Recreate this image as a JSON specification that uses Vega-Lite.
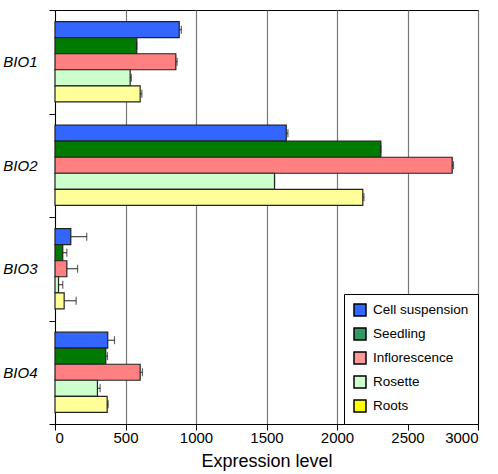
{
  "$schema": "https://vega.github.io/schema/vega-lite/v6.json",
  "width": 423,
  "height": 414,
  "padding": {"left": 2, "top": 3, "right": 2, "bottom": 4},
  "autosize": {"type": "pad"},
  "config": {
    "font": "Liberation Sans",
    "view": {"stroke": "black", "strokeWidth": 1},
    "axis": {"labelColor": "black", "titleColor": "black", "domainColor": "black", "tickColor": "black"}
  },
  "data": {
    "values": [
      {"gene": "BIO1", "tissue": "Cell suspension", "value": 881, "upper": 896},
      {"gene": "BIO1", "tissue": "Seedling", "value": 580, "upper": 580},
      {"gene": "BIO1", "tissue": "Inflorescence", "value": 857, "upper": 866},
      {"gene": "BIO1", "tissue": "Rosette", "value": 533, "upper": 541},
      {"gene": "BIO1", "tissue": "Roots", "value": 604, "upper": 616},
      {"gene": "BIO2", "tissue": "Cell suspension", "value": 1640, "upper": 1652},
      {"gene": "BIO2", "tissue": "Seedling", "value": 2311, "upper": 2311},
      {"gene": "BIO2", "tissue": "Inflorescence", "value": 2817, "upper": 2826},
      {"gene": "BIO2", "tissue": "Rosette", "value": 1557, "upper": 1557},
      {"gene": "BIO2", "tissue": "Roots", "value": 2183, "upper": 2191},
      {"gene": "BIO3", "tissue": "Cell suspension", "value": 112, "upper": 225},
      {"gene": "BIO3", "tissue": "Seedling", "value": 55, "upper": 84},
      {"gene": "BIO3", "tissue": "Inflorescence", "value": 84, "upper": 160},
      {"gene": "BIO3", "tissue": "Rosette", "value": 25, "upper": 55},
      {"gene": "BIO3", "tissue": "Roots", "value": 65, "upper": 150},
      {"gene": "BIO4", "tissue": "Cell suspension", "value": 374, "upper": 422},
      {"gene": "BIO4", "tissue": "Seedling", "value": 360, "upper": 372},
      {"gene": "BIO4", "tissue": "Inflorescence", "value": 604, "upper": 620},
      {"gene": "BIO4", "tissue": "Rosette", "value": 301, "upper": 320},
      {"gene": "BIO4", "tissue": "Roots", "value": 370, "upper": 377}
    ]
  },
  "encoding": {
    "y": {
      "field": "gene",
      "type": "nominal",
      "scale": {"paddingInner": 0, "paddingOuter": 0},
      "axis": {
        "title": null,
        "labelFontStyle": "italic",
        "labelFontSize": 15,
        "labelPadding": 12,
        "tickSize": 6,
        "tickBand": "extent",
        "grid": false
      }
    },
    "yOffset": {
      "field": "tissue",
      "sort": ["Cell suspension", "Seedling", "Inflorescence", "Rosette", "Roots"],
      "scale": {"paddingInner": 0, "paddingOuter": 0.73}
    }
  },
  "layer": [
    {
      "mark": {"type": "bar", "opacity": 0, "stroke": "black"},
      "encoding": {
        "x": {
          "field": "value",
          "type": "quantitative",
          "scale": {"domain": [0, 3000], "nice": false},
          "axis": {
            "title": "Expression level",
            "titleFontSize": 18,
            "titleFontWeight": "normal",
            "titlePadding": 7,
            "labelFontSize": 15,
            "labelPadding": 0,
            "format": "d",
            "values": [0, 500, 1000, 1500, 2000, 2500, 3000],
            "grid": true,
            "gridColor": "#777777",
            "gridWidth": 1.2,
            "tickSize": 6
          }
        },
        "color": {
          "field": "tissue",
          "type": "nominal",
          "scale": {
            "domain": ["Cell suspension", "Seedling", "Inflorescence", "Rosette", "Roots"],
            "range": ["#3366ff", "#339966", "#ff9999", "#ccffcc", "#ffff00"]
          },
          "legend": {
            "title": null,
            "orient": "bottom-right",
            "offset": 0,
            "fillColor": "white",
            "strokeColor": "black",
            "padding": 9,
            "symbolType": "square",
            "symbolSize": 144,
            "symbolStrokeColor": "black",
            "symbolStrokeWidth": 1.5,
            "symbolOpacity": 1,
            "labelFontSize": 13.5,
            "labelColor": "black",
            "labelOffset": 6,
            "rowPadding": 6
          }
        }
      }
    },
    {
      "mark": {"type": "bar", "stroke": "#222222", "strokeWidth": 1.2},
      "encoding": {
        "x": {"field": "value", "type": "quantitative"},
        "fill": {
          "field": "tissue",
          "type": "nominal",
          "scale": {
            "domain": ["Cell suspension", "Seedling", "Inflorescence", "Rosette", "Roots"],
            "range": ["#3366ff", "#007a00", "#ff8080", "#ccffcc", "#ffff99"]
          },
          "legend": null
        }
      }
    },
    {
      "mark": {"type": "rule", "color": "#222222", "strokeWidth": 1},
      "encoding": {
        "x": {"field": "value", "type": "quantitative"},
        "x2": {"field": "upper"}
      }
    },
    {
      "mark": {"type": "tick", "color": "#222222", "thickness": 1.2, "size": 8, "orient": "vertical"},
      "encoding": {
        "x": {"field": "upper", "type": "quantitative"}
      }
    }
  ]
}
